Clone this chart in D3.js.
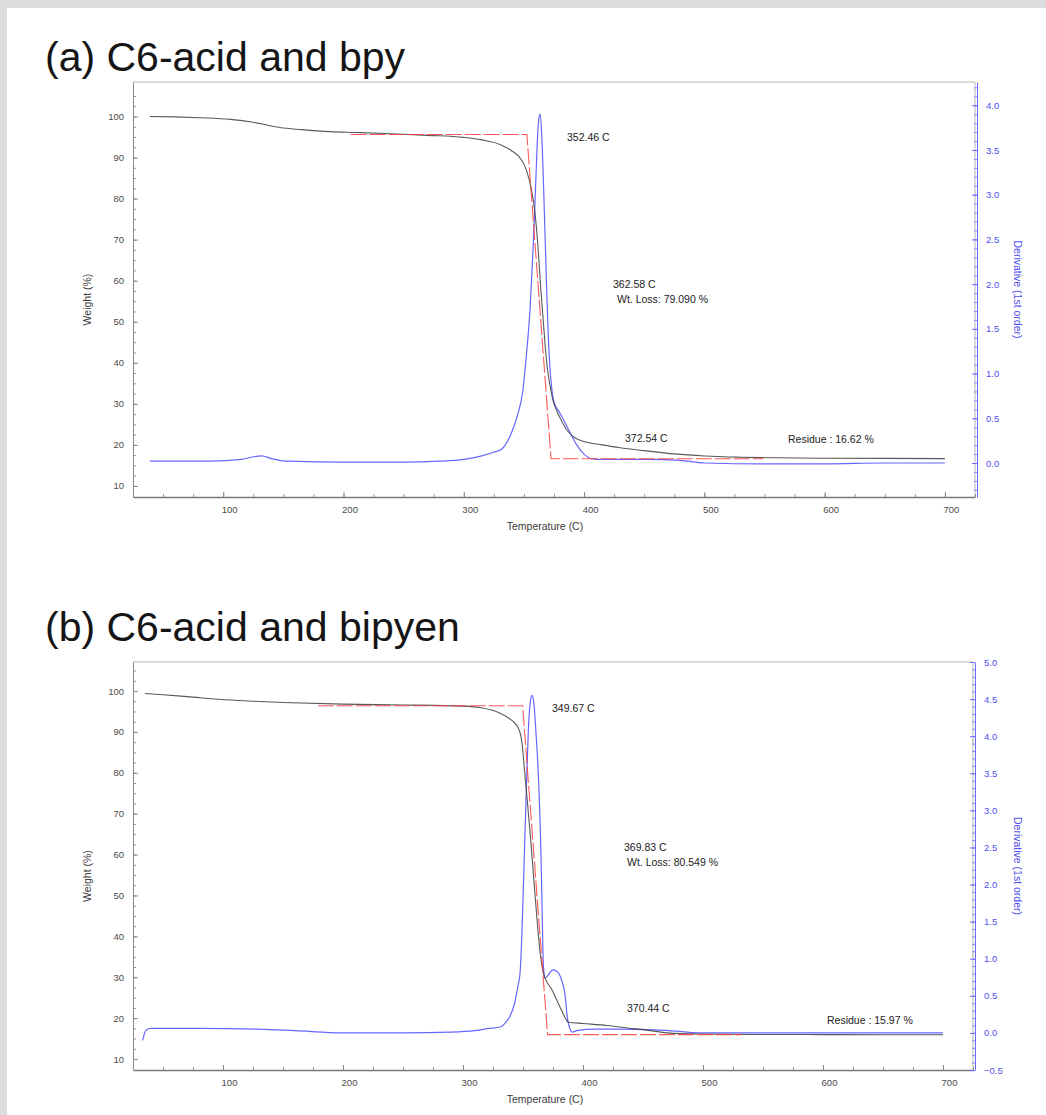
<!DOCTYPE html>
<html>
<head>
<meta charset="utf-8">
<script src="https://cdn.jsdelivr.net/npm/d3@7"></script>
<style>
  body { margin: 0; background: #dcdcdc; }
  svg { display: block; font-family: "Liberation Sans", Arial, sans-serif; }
</style>
</head>
<body>
<svg id="chart" width="1046" height="1115"></svg>
<script>
// ---- (a) C6-acid and bpy ----
const aWeightT = [39, 60, 80, 106, 125, 147, 165, 189, 210, 240, 270, 300, 315, 330, 340, 347, 352, 356, 359, 362, 364, 366, 368, 370, 372, 374, 377, 381, 386, 392, 400, 415, 430, 450, 475, 500, 530, 560, 600, 650, 700];
const aWeight = [100.0, 99.9, 99.7, 99.3, 98.6, 97.3, 96.8, 96.3, 96.1, 95.8, 95.4, 94.9, 94.3, 93.2, 91.6, 89.8, 87.0, 82.5, 77.0, 67.0, 58.0, 50.5, 43.0, 37.5, 34.0, 31.0, 28.5, 26.0, 23.5, 21.8, 20.8, 20.0, 19.3, 18.6, 17.8, 17.3, 17.0, 16.85, 16.75, 16.7, 16.65];
const aDerivT = [39, 60, 90, 115, 125, 132, 140, 155, 200, 250, 280, 300, 315, 325, 331, 340, 345, 349, 352, 355, 358, 360, 362, 363.5, 365, 367, 369, 371, 373, 375, 379, 383, 388, 394, 400, 406, 415, 450, 480, 500, 550, 600, 650, 700];
const aDeriv = [0.02, 0.02, 0.02, 0.04, 0.07, 0.08, 0.05, 0.02, 0.01, 0.01, 0.02, 0.04, 0.08, 0.12, 0.15, 0.35, 0.55, 0.8, 1.2, 1.7, 2.5, 3.2, 3.8, 3.9, 3.6, 2.8, 1.9, 1.2, 0.85, 0.68, 0.58, 0.48, 0.35, 0.2, 0.1, 0.05, 0.04, 0.04, 0.03, 0.0, -0.01, -0.01, 0.0, 0.0];
const aOnsetT = [206, 352.46, 372.54, 549];
const aOnsetW = [95.6, 95.6, 16.62, 16.62];
const aNotes = ["352.46 C", "362.58 C", "Wt. Loss: 79.090 %", "372.54 C", "Residue : 16.62 %"];

// ---- (b) C6-acid and bipyen ----
const bWeightT = [35, 50, 75, 106, 125, 150, 200, 250, 300, 315, 330, 338, 342, 346, 348, 349.5, 351, 353, 356, 359, 362, 364.5, 367, 370, 374, 378, 382, 386, 388, 400, 420, 437, 455, 470, 497, 550, 600, 650, 700];
const bWeight = [99.4, 99.1, 98.5, 97.8, 97.5, 97.2, 96.8, 96.6, 96.3, 95.9, 94.7, 93.4, 92.5, 91.0, 89.3, 86.5, 81.5, 75.0, 65.0, 54.0, 43.0, 35.5, 31.0, 28.8, 27.0, 24.5, 22.0, 19.6, 19.0, 18.7, 18.2, 17.6, 17.0, 16.4, 16.1, 16.0, 15.97, 15.95, 15.95];
const bDerivT = [33, 36, 40, 80, 130, 160, 200, 250, 290, 310, 322, 331, 336, 339, 343, 346, 347.5, 349, 350, 351.5, 353, 354.5, 356, 357.5, 359, 361, 363, 365, 366, 367, 368.5, 371, 375, 379, 382, 385, 387, 389, 391, 395, 410, 430, 460, 480, 500, 600, 700];
const bDeriv = [-0.1, 0.04, 0.06, 0.06, 0.05, 0.03, 0.0, 0.0, 0.01, 0.03, 0.06, 0.08, 0.15, 0.22, 0.4, 0.65, 0.8, 1.3, 1.8, 2.6, 3.4, 4.1, 4.45, 4.55, 4.45, 4.0, 3.4, 2.4, 1.6, 0.9, 0.74, 0.78, 0.85, 0.82, 0.72, 0.52, 0.2, 0.06, 0.01, 0.03, 0.05, 0.05, 0.04, 0.02, 0.0, 0.0, 0.0];
const bOnsetT = [179, 349.67, 370.44, 532];
const bOnsetW = [96.4, 96.4, 15.97, 15.97];
const bNotes = ["349.67 C", "369.83 C", "Wt. Loss: 80.549 %", "370.44 C", "Residue : 15.97 %"];

// ---- shared axis ticks ----
const tempTicks = [100, 200, 300, 400, 500, 600, 700];
const weightTicks = [10, 20, 30, 40, 50, 60, 70, 80, 90, 100];
const aDerivTicks = [0, 0.5, 1, 1.5, 2, 2.5, 3, 3.5, 4];
const bDerivTicks = [-0.5, 0, 0.5, 1, 1.5, 2, 2.5, 3, 3.5, 4, 4.5, 5];

const svg = d3.select("#chart");
svg.append("rect").attr("x", 7).attr("y", 8).attr("width", 1039).attr("height", 1107).attr("fill", "#fff");

const panels = [
  {
    title: "(a) C6-acid and bpy", titleY: 71,
    top: 82, bottom: 497, left: 133, right: 975,
    wDomain: [7.3, 108.4], dDomain: [-0.38, 4.26], dTicks: aDerivTicks,
    wT: aWeightT, w: aWeight, dT: aDerivT, d: aDeriv, oT: aOnsetT, oW: aOnsetW,
    notes: aNotes,
    notePos: [[567, 141], [613, 288], [617, 303], [625, 442], [788, 443]]
  },
  {
    title: "(b) C6-acid and bipyen", titleY: 641,
    top: 662, bottom: 1070, left: 133, right: 973,
    wDomain: [7.31, 107.1], dDomain: [-0.5, 5.0], dTicks: bDerivTicks,
    wT: bWeightT, w: bWeight, dT: bDerivT, d: bDeriv, oT: bOnsetT, oW: bOnsetW,
    notes: bNotes,
    notePos: [[552, 712], [624, 851], [627, 866], [627, 1012], [827, 1024]]
  }
];

panels.forEach(p => {
  const x = d3.scaleLinear().domain([25, 725]).range([p.left, p.right]);
  const yW = d3.scaleLinear().domain(p.wDomain).range([p.bottom, p.top]);
  const yD = d3.scaleLinear().domain(p.dDomain).range([p.bottom, p.top]);
  const g = svg.append("g");

  g.append("text")
    .attr("x", 45).attr("y", p.titleY)
    .attr("font-size", 41).attr("fill", "#151515")
    .text(p.title);

  // frame
  g.append("path")
    .attr("d", `M${p.left},${p.top}H${p.right}V${p.bottom}`)
    .attr("fill", "none").attr("stroke", "#b4b4b4").attr("stroke-width", 1);

  // minor ticks
  const minorX = d3.range(25, 726, 25);
  g.append("g").attr("transform", `translate(0,${p.bottom})`)
    .call(d3.axisBottom(x).tickValues(minorX).tickSize(-3).tickFormat(""))
    .call(a => a.select(".domain").remove())
    .selectAll("line").attr("stroke", "#999");
  g.append("g").attr("transform", `translate(${p.left},0)`)
    .call(d3.axisLeft(yW).tickValues(d3.range(10, 106, 2.5)).tickSize(-3).tickFormat(""))
    .call(a => a.select(".domain").remove())
    .selectAll("line").attr("stroke", "#999");
  g.append("g").attr("transform", `translate(${p.right + 2},0)`)
    .call(d3.axisRight(yD).tickValues(d3.range(Math.ceil(p.dDomain[0] * 10), Math.floor(p.dDomain[1] * 10) + 1).map(v => v / 10)).tickSize(-3).tickFormat(""))
    .call(a => a.select(".domain").remove())
    .selectAll("line").attr("stroke", "#8a8aff");

  // main axes
  const xAxis = g.append("g").attr("transform", `translate(0,${p.bottom})`)
    .call(d3.axisBottom(x).tickValues(tempTicks).tickSize(-5).tickPadding(9).tickSizeOuter(0));
  xAxis.select(".domain").attr("stroke", "#7a7a7a").attr("stroke-width", 1.6);
  xAxis.selectAll("line").attr("stroke", "#888");
  xAxis.selectAll("text").attr("dx", 6).attr("fill", "#4a4a4a").attr("font-size", 9.5);

  const wAxis = g.append("g").attr("transform", `translate(${p.left},0)`)
    .call(d3.axisLeft(yW).tickValues(weightTicks).tickSize(-5).tickPadding(9).tickSizeOuter(0));
  wAxis.select(".domain").attr("stroke", "#8a8a8a");
  wAxis.selectAll("line").attr("stroke", "#888");
  wAxis.selectAll("text").attr("fill", "#4a4a4a").attr("font-size", 9.5);

  const dAxis = g.append("g").attr("transform", `translate(${p.right + 2},0)`)
    .call(d3.axisRight(yD).tickValues(p.dTicks).tickSize(-5).tickPadding(9).tickSizeOuter(0).tickFormat(d3.format(".1f")));
  dAxis.select(".domain").attr("stroke", "#6a6aff");
  dAxis.selectAll("line").attr("stroke", "#6a6aff");
  dAxis.selectAll("text").attr("fill", "#5050ee").attr("font-size", 9.5);

  // axis titles
  g.append("text")
    .attr("x", 545).attr("y", p.bottom + 33)
    .attr("text-anchor", "middle").attr("font-size", 10.5).attr("fill", "#3a3a3a")
    .text("Temperature (C)");
  g.append("text")
    .attr("transform", `translate(91,${(p.top + p.bottom) / 2 + 10}) rotate(-90)`)
    .attr("text-anchor", "middle").attr("font-size", 10.5).attr("fill", "#3a3a3a")
    .text("Weight (%)");
  g.append("text")
    .attr("transform", `translate(1014,${(p.top + p.bottom) / 2}) rotate(90)`)
    .attr("text-anchor", "middle").attr("font-size", 10.5).attr("fill", "#5050ee")
    .text("Derivative (1st order)");

  // curves
  const wLine = d3.line().x(d => x(d[0])).y(d => yW(d[1])).curve(d3.curveMonotoneX);
  const dLine = d3.line().x(d => x(d[0])).y(d => yD(d[1])).curve(d3.curveMonotoneX);
  const oLine = d3.line().x(d => x(d[0])).y(d => yW(d[1]));

  g.append("path")
    .datum(d3.zip(p.dT, p.d))
    .attr("d", dLine)
    .attr("fill", "none").attr("stroke", "#4b4bff").attr("stroke-width", 1.2).attr("stroke-opacity", 0.85);

  g.append("path")
    .datum(d3.zip(p.wT, p.w))
    .attr("d", wLine)
    .attr("fill", "none").attr("stroke", "#3c3c3c").attr("stroke-width", 1.1).attr("stroke-opacity", 0.85);

  g.append("path")
    .datum(d3.zip(p.oT, p.oW))
    .attr("d", oLine)
    .attr("fill", "none").attr("stroke", "#ff3c3c").attr("stroke-width", 1.1)
    .attr("stroke-dasharray", "16,3").attr("stroke-opacity", 0.85);

  // annotations
  g.selectAll(".note")
    .data(p.notes)
    .join("text")
    .attr("class", "note")
    .attr("x", (d, i) => p.notePos[i][0])
    .attr("y", (d, i) => p.notePos[i][1])
    .attr("font-size", 10.5).attr("fill", "#222")
    .text(d => d);
});
</script>
</body>
</html>
